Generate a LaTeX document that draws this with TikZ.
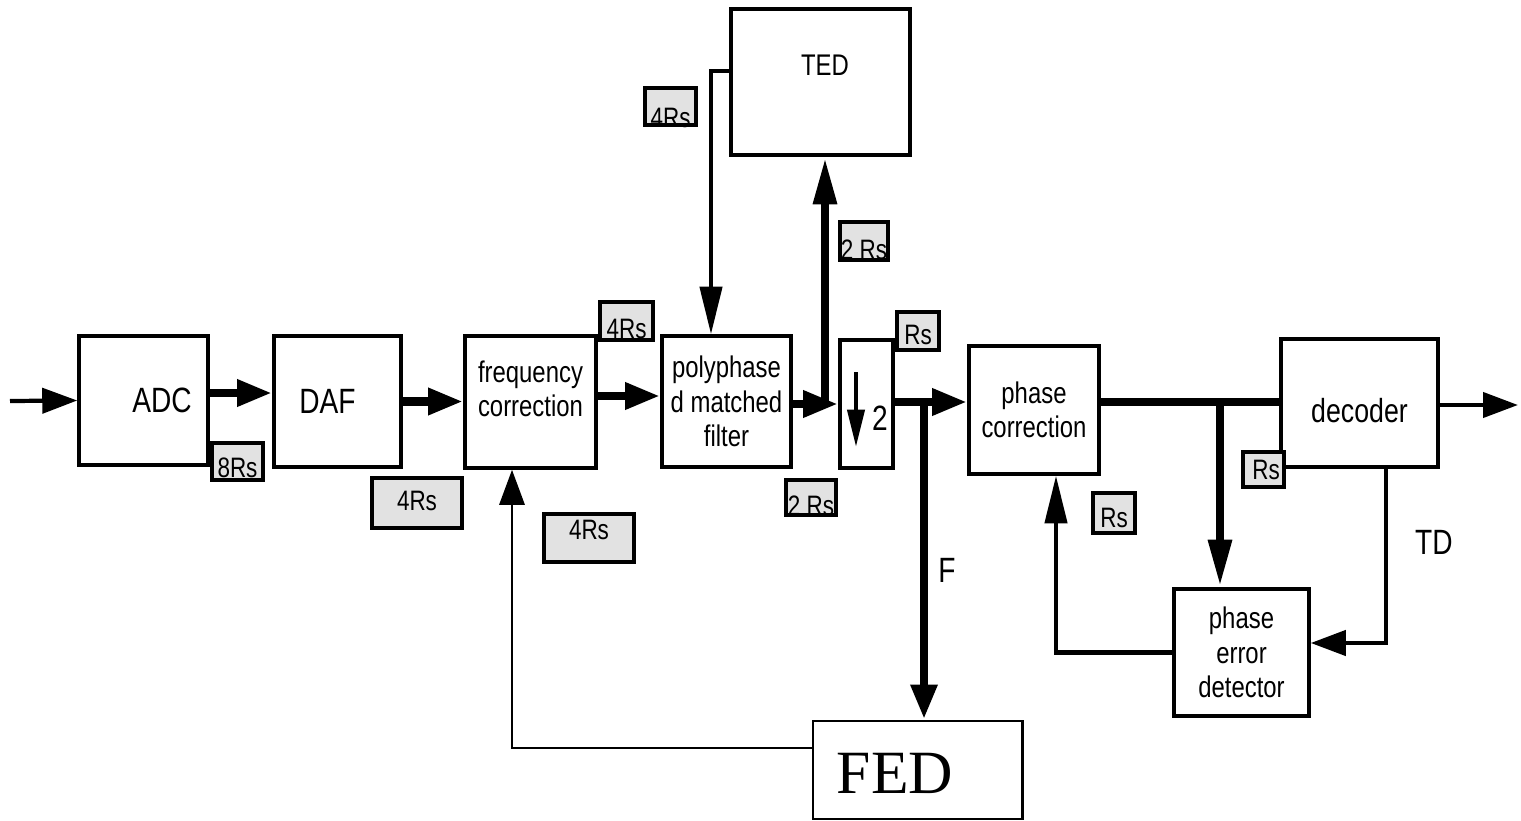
\documentclass[tikz,border=0pt]{standalone}
\usepackage{fontspec}
\setmainfont{Liberation Sans}[FakeStretch=0.8]
\newfontfamily\fedfont{Liberation Serif}
\usetikzlibrary{arrows.meta, positioning}
\definecolor{ratefill}{HTML}{E2E2E2}

\begin{document}
\begin{tikzpicture}[x=0.2mm, y=-0.2mm,
  >={Triangle[length=7mm, width=5mm]},
  tall/.style={-{Triangle[length=9.5mm, width=4.4mm]}},
  block/.style={draw, line width=2pt, inner sep=2pt, align=center},
  bigtxt/.style={font=\fontsize{20}{24}\selectfont, inner sep=0pt},
  midtxt/.style={font=\fontsize{17}{19.5}\selectfont, inner sep=0pt, align=center},
  rtxt/.style={font=\fontsize{16}{16}\selectfont, inner sep=0pt},
  rate/.style={draw, line width=2pt, fill=ratefill, inner sep=0pt},
  heavy/.style={line width=5pt},
  lean/.style={line width=2.4pt},
  fbline/.style={line width=1.7pt},
]

\useasboundingbox (0,0) rectangle (1521,821);

% === Blocks ===
\node[block, minimum width=25.8mm, minimum height=25.8mm,
  label={[bigtxt, xshift=3.7mm]center:ADC}] (adc) at (143.5,400.5) {};
\node[block, bigtxt, minimum width=25.4mm, minimum height=26.2mm] (daf) at (337.5,401.5)
  {DAF\hspace*{4mm}};
\node[block, minimum width=26.2mm, minimum height=26.4mm,
  label={[midtxt, yshift=2.7mm]center:{frequency\\correction}}] (freq) at (530.5,402) {};
\node[block, midtxt, minimum width=25.8mm, minimum height=26.2mm] (poly) at (726.5,401.5)
  {polyphase\\d matched\\filter};
\node[block, minimum width=10.6mm, minimum height=25.6mm,
  label={[bigtxt, xshift=2.7mm, yshift=-2.8mm]center:2}] (dn) at (866.5,404) {};
\node[block, midtxt, minimum width=26mm, minimum height=25.6mm] (pc) at (1034,410)
  {phase\\correction};
\node[block, minimum width=31.4mm, minimum height=25.6mm,
  label={[bigtxt, font=\fontsize{19}{24}\selectfont, yshift=-1.6mm]center:decoder}] (dec) at (1359.5,403) {};
\node[block, minimum width=35.8mm, minimum height=29.2mm,
  label={[midtxt, xshift=0.9mm, yshift=3.4mm]center:TED}] (ted) at (820.5,82) {};
\node[block, midtxt, minimum width=27mm, minimum height=25.4mm] (ped) at (1241.5,652.5)
  {phase\\error\\detector};
\node[block, line width=1.7pt, minimum width=41.8mm, minimum height=19.6mm,
  label={[font=\fedfont\fontsize{35}{40}\selectfont, inner sep=0pt, xshift=-4.5mm, yshift=-0.6mm]center:FED}]
  (fed) at (917.5,770) {};

% down-sampling arrow inside the decimator
\draw[lean, -{Triangle[length=7.5mm, width=3.4mm]}]
  ([xshift=-2.1mm, yshift=6.4mm]dn.center) -- ++(0,75);

% === Main signal chain ===
\coordinate (in) at (10,401);
\draw[lean, ->] (in) -- (adc.west);
\draw[heavy, ->] ([yshift=1.5mm]adc.east) coordinate (a1) -- (a1 -| daf.west);
\draw[heavy, ->] (daf.east) -- (daf.east -| freq.west);
\draw[heavy, ->] ([yshift=1.2mm]freq.east) coordinate (a2) -- (a2 -| poly.west);
\draw[heavy, ->] (poly.east |- dn.west) -- (dn.west);
\draw[heavy, ->] ([yshift=0.4mm]dn.east) coordinate (a3) -- (a3 -| pc.west);
\draw[heavy] ([yshift=1.6mm]pc.east) coordinate (a4) -- (a4 -| dec.west);
\coordinate (out) at (1518,405);
\draw[lean, ->] (dec.east |- out) -- (out);

% === Timing loop ===
\coordinate (jt) at (825,404);
\draw[heavy, tall] (jt) -- (jt |- ted.south);
\draw[lean, tall] ([yshift=2.2mm]ted.west) -| ([xshift=-3.1mm]poly.north);

% === Frequency loop ===
\coordinate (jf) at (924,402);
\draw[heavy, ->] (jf) -- (jf |- fed.north)
  node[bigtxt, pos=0.53, right=2mm] {F};
\draw[fbline, ->] ([yshift=4.4mm]fed.west) -| ([xshift=-3.7mm]freq.south);

% === Phase loop ===
\coordinate (jp) at (1220,402);
\draw[heavy, tall] (jp) -- (jp |- ped.north);
\draw[lean, ->] ([xshift=5.3mm]dec.south) |- ([yshift=1.9mm]ped.east)
  node[bigtxt, pos=0.21, right=5.4mm] {TD};
\draw[lean, tall] (ped.west) -| ([xshift=4.4mm]pc.south);

% === Rate tags ===
\node[rate, minimum width=10.2mm, minimum height=7.4mm,
  label={[rtxt, yshift=-1.3mm]center:8Rs}] (r8) at (237.5,461.5) {};
\node[rate, minimum width=18mm, minimum height=10mm,
  label={[rtxt, yshift=0.4mm]center:4Rs}] (r4a) at (417,503) {};
\node[rate, minimum width=10.6mm, minimum height=7.6mm,
  label={[rtxt, yshift=-1.6mm]center:4Rs}] (r4b) at (626.5,321) {};
\node[rate, minimum width=18mm, minimum height=9.6mm,
  label={[rtxt, yshift=1.6mm]center:4Rs}] (r4c) at (589,538) {};
\node[rate, minimum width=10.2mm, minimum height=7.4mm,
  label={[rtxt, yshift=-2.3mm]center:4Rs}] (r4d) at (670.5,106.5) {};
\node[rate, minimum width=9.6mm, minimum height=7.6mm,
  label={[rtxt, yshift=-1.8mm]center:2 Rs}] (r2a) at (864,241) {};
\node[rate, minimum width=10mm, minimum height=7mm,
  label={[rtxt, yshift=-1.7mm]center:2 Rs}] (r2b) at (811,497.5) {};
\node[rate, minimum width=8.4mm, minimum height=7.6mm,
  label={[rtxt, yshift=-0.8mm]center:Rs}] (rs1) at (918,331) {};
\node[rate, minimum width=8.2mm, minimum height=7mm,
  label={[rtxt, xshift=0.5mm]center:Rs}] (rs2) at (1263.5,469.5) {};
\node[rate, minimum width=8.4mm, minimum height=8mm,
  label={[rtxt, yshift=-1mm]center:Rs}] (rs3) at (1114,513) {};

\end{tikzpicture}
\end{document}
